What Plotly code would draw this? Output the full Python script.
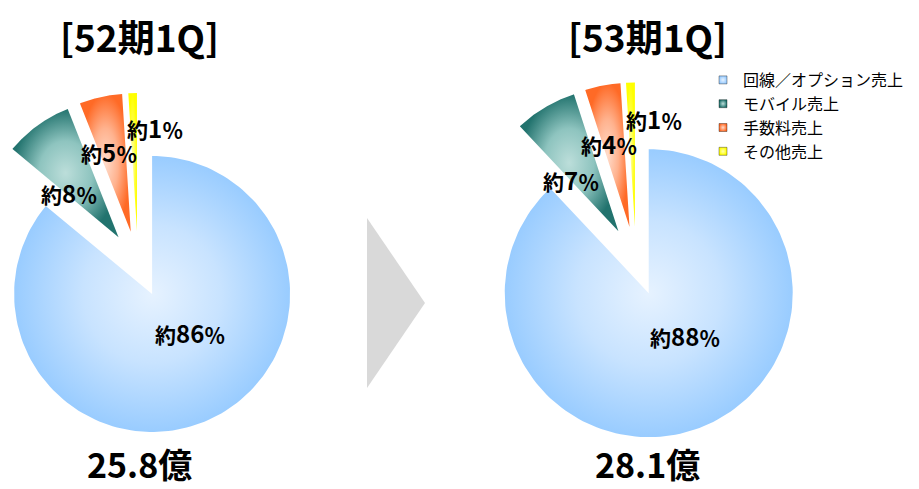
"""
Two exploded pie charts of sales mix (52期1Q vs 53期1Q) with a shared legend.
Slices are drawn as filled scatter wedges so each one can carry a radial gradient
and be exploded without shrinking the pie.
"""

import numpy as np
import plotly.graph_objects as go

# --- Data ---
PERIODS = ["52期1Q", "53期1Q"]
TOTALS = [25.8, 28.1]  # 億
CATEGORIES = ["回線／オプション売上", "モバイル売上", "手数料売上", "その他売上"]
SHARES_52 = [86, 8, 5, 1]
SHARES_53 = [88, 7, 4, 1]

# --- Style / layout ---
W, H = 919, 489
PAGE_PAD = 8  # the html body margin; axis units line up with window pixels
FONT = "Noto Sans CJK JP"
EDGE_COLORS = ["#99CCFF", "#22736E", "#FF6A26", "#FFFF00"]
MID_COLORS = ["#C8E3FF", "#8EC4BF", "#FFB28E", "#FFFF50"]
CENTER_COLORS = ["#E6F2FF", "#BCDEDA", "#FFDCCB", "#FFFFB0"]
PIE_CENTERS = [(138, 264), (636, 261)]  # plot units (1 unit = 1 px)
R_MAX = 144          # radius of the larger total; area scales with total
EXPLODE = 0.24       # fraction of radius each slice moves out
LABEL_RHO = [0.62, 0.72, 0.84, 1.0]
LABEL_TURN = [-12, -8, -2, 9]  # degrees off the slice bisector
COLUMN_X = [139, 647]
TITLE_Y, TOTAL_Y = 36, 463
ARROW = dict(left=367, tip=425, top=218, bottom=388, color="#D9D9D9")
LEGEND_LEFT, LEGEND_TOP = 703, 63


def wedge(cx, cy, r, a0, a1, n=160):
    # angles clockwise from 12 o'clock; y axis points down
    t = np.radians(np.linspace(a0, a1, n))
    xs = np.concatenate([[cx], cx + r * np.sin(t), [cx]])
    ys = np.concatenate([[cy], cy - r * np.cos(t), [cy]])
    return xs, ys


def run():
    fig = go.Figure()
    annotations = []
    big = max(TOTALS)

    for k, shares in enumerate([SHARES_52, SHARES_53]):
        cx, cy = PIE_CENTERS[k]
        r = R_MAX * np.sqrt(TOTALS[k] / big)
        vals = np.array(shares, dtype=float)
        ends = 360 * np.cumsum(vals) / vals.sum()
        starts = np.concatenate([[0], ends[:-1]])

        for i, (a0, a1) in enumerate(zip(starts, ends)):
            mid = np.radians((a0 + a1) / 2)
            ox = cx + EXPLODE * r * np.sin(mid)
            oy = cy - EXPLODE * r * np.cos(mid)
            xs, ys = wedge(ox, oy, r, a0, a1)
            fig.add_trace(go.Scatter(
                x=xs, y=ys,
                mode="lines",
                line=dict(width=0, color=EDGE_COLORS[i]),
                fill="toself",
                fillcolor=EDGE_COLORS[i],
                fillgradient=dict(
                    type="radial",
                    colorscale=[[0, CENTER_COLORS[i]], [0.5, MID_COLORS[i]],
                                [1, EDGE_COLORS[i]]],
                ),
                name=CATEGORIES[i],
                showlegend=False,
                hoverinfo="skip",
            ))

            la = np.radians((a0 + a1) / 2 + LABEL_TURN[i])
            lr = LABEL_RHO[i] * r
            annotations.append(dict(
                x=cx + lr * np.sin(la), y=cy - lr * np.cos(la),
                text=f"約<span style='font-size:24px'>{shares[i]}</span>％",
                showarrow=False,
                font=dict(family=FONT, size=21, color="black", weight="bold"),
            ))

        annotations.append(dict(
            x=COLUMN_X[k], y=TITLE_Y,
            text=f"[{PERIODS[k]}]",
            showarrow=False,
            font=dict(family=FONT, size=37, color="black", weight="bold"),
        ))
        annotations.append(dict(
            x=COLUMN_X[k], y=TOTAL_Y,
            text=f"{TOTALS[k]}億",
            showarrow=False,
            font=dict(family=FONT, size=34, color="black", weight="bold"),
        ))

    # legend entries
    for i, name in enumerate(CATEGORIES):
        fig.add_trace(go.Scatter(
            x=[None], y=[None],
            mode="markers",
            name=name,
            marker=dict(
                symbol="square", size=8, color=EDGE_COLORS[i],
                gradient=dict(type="radial", color=CENTER_COLORS[i]),
                line=dict(width=1, color="rgba(0,0,0,0.35)"),
            ),
        ))

    a = ARROW
    fig.add_shape(
        type="path",
        path=f"M{a['left']},{a['top']} L{a['tip']},{(a['top'] + a['bottom']) / 2} "
             f"L{a['left']},{a['bottom']} Z",
        xref="x", yref="y",
        fillcolor=a["color"], line=dict(width=0),
        layer="below",
    )

    p = PAGE_PAD
    fig.update_layout(
        width=W, height=H,
        margin=dict(l=0, r=0, t=0, b=0),
        paper_bgcolor="white",
        plot_bgcolor="white",
        xaxis=dict(range=[p, W + p], visible=False, fixedrange=True),
        yaxis=dict(range=[H + p, p], visible=False, fixedrange=True),
        annotations=annotations,
        showlegend=True,
        legend=dict(
            x=(LEGEND_LEFT - p) / W, y=1 - (LEGEND_TOP - p) / H,
            xanchor="left", yanchor="top",
            font=dict(family=FONT, size=16, color="black"),
            bgcolor="rgba(0,0,0,0)",
        ),
        font=dict(family=FONT),
    )

    fig.write_html("out.html")


if __name__ == "__main__":
    run()
